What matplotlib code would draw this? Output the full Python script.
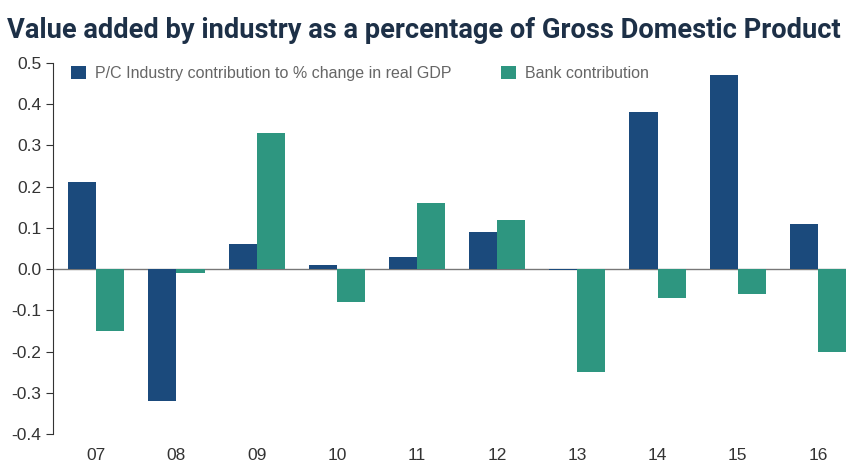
import matplotlib.pyplot as plt
import numpy as np

# dane
years = ['07', '08', '09', '10', '11', '12', '13', '14', '15', '16']
pc_industry = [0.21, -0.32, 0.06, 0.01, 0.03, 0.09, -0.002, 0.38, 0.47, 0.11]
bank = [-0.15, -0.01, 0.33, -0.08, 0.16, 0.12, -0.25, -0.07, -0.06, -0.20]
yticks = [0.5, 0.4, 0.3, 0.2, 0.1, 0.0, -0.1, -0.2, -0.3, -0.4]

blue = '#1b4a7c'
green = '#2e9680'

plt.rcParams['font.family'] = ['Liberation Sans', 'DejaVu Sans']

fig = plt.figure(figsize=(8.46, 4.66), dpi=100)
ax = fig.add_axes([0.0626, 0.0687, 0.9374, 0.7963])

x = np.arange(len(years))
w = 0.35
ax.bar(x - w / 2, pc_industry, w, color=blue, label='P/C Industry contribution to % change in real GDP')
ax.bar(x + w / 2, bank, w, color=green, label='Bank contribution')
ax.axhline(0, color='#777777', lw=1, zorder=0)

ax.set_xlim(-0.54, 9.35)
ax.set_ylim(-0.4, 0.5)
ax.set_yticks(yticks)
ax.set_yticklabels(['%.1f' % v for v in yticks])
ax.set_xticks(x)
ax.set_xticklabels(years)

for s in ['top', 'right', 'bottom']:
    ax.spines[s].set_visible(False)
ax.spines['left'].set_color('#333333')
ax.tick_params(axis='y', length=5, color='#333333', labelsize=12.5, labelcolor='#333333')
ax.tick_params(axis='x', length=0, labelsize=12.5, labelcolor='#333333', pad=10)

leg = ax.legend(loc='upper left', bbox_to_anchor=(0.005, 1.03), ncol=2, frameon=False,
                fontsize=11.5, handlelength=0.9, handleheight=0.9, columnspacing=3.1,
                handletextpad=0.6, labelcolor='#666666')

fig.text(0.008, 0.935, 'Value added by industry as a percentage of Gross Domestic Product',
         fontsize=19.6, fontweight='bold', color='#1d3047', family=['Roboto', 'DejaVu Sans'],
         va='center')

fig.savefig('out.png', dpi=100)
